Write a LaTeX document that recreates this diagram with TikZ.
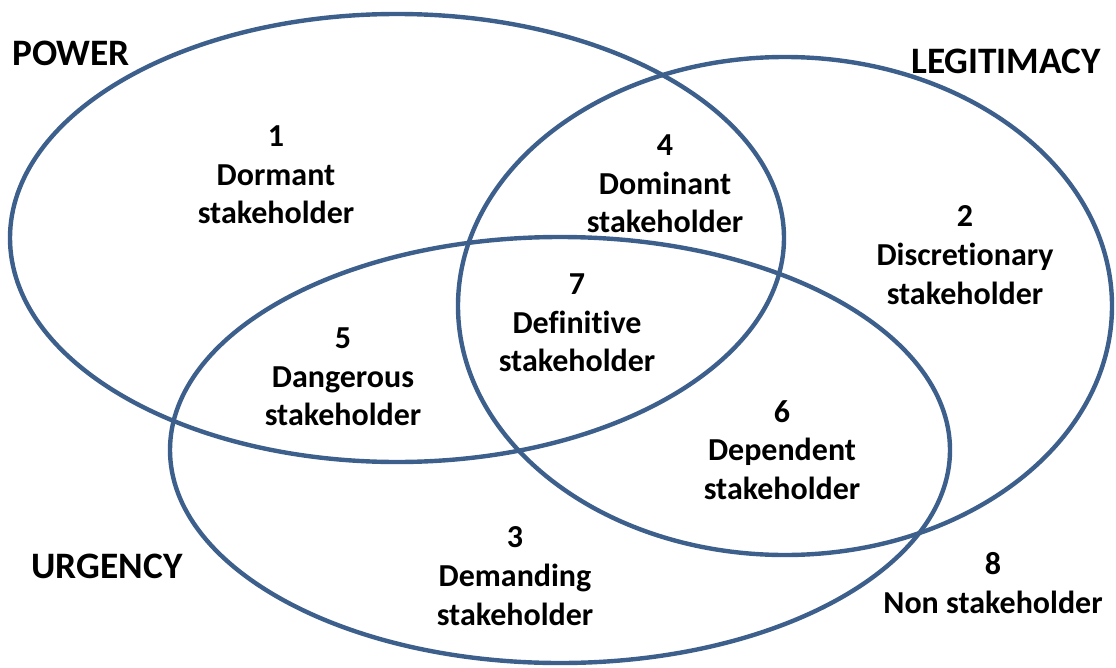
\documentclass[tikz,border=0pt]{standalone}
\usepackage{fontspec}
\setmainfont{Carlito}[Ligatures=NoCommon]
\definecolor{ringblue}{RGB}{61,95,140}
\begin{document}
\begin{tikzpicture}[x=0.75pt,y=-0.75pt,
  ring/.style={draw=ringblue,line width=3.3pt},
  lbl/.style={align=center,font=\bfseries\fontsize{24}{29}\selectfont,inner sep=0pt},
  ttl/.style={font=\bfseries\fontsize{28}{33}\selectfont,inner sep=0pt}]
\useasboundingbox (0,0) rectangle (1116,667);
\draw[ring] (397,238) ellipse [x radius=387, y radius=224];
\draw[ring] (785,306) ellipse [x radius=327, y radius=249];
\draw[ring] (560,450) ellipse [x radius=390, y radius=213];
\node[ttl] (power) at (71,53) {POWER};
\node[ttl] (legit) at (1006,61) {LEGITIMACY};
\node[ttl] (urg) at (107,566) {URGENCY};
\node[lbl] (r1) at (276,175) {1\\Dormant\\stakeholder};
\node[lbl] (r4) at (665,184) {4\\Dominant\\stakeholder};
\node[lbl] (r2) at (965,255) {2\\Discretionary\\stakeholder};
\node[lbl] (r7) at (577,323) {7\\Definitive\\stakeholder};
\node[lbl] (r5) at (343,377) {5\\Dangerous\\stakeholder};
\node[lbl] (r6) at (782,450) {6\\Dependent\\stakeholder};
\node[lbl] (r3) at (515,576) {3\\Demanding\\stakeholder};
\node[lbl] (r8) at (993,583) {8\\Non stakeholder};
\end{tikzpicture}
\end{document}
